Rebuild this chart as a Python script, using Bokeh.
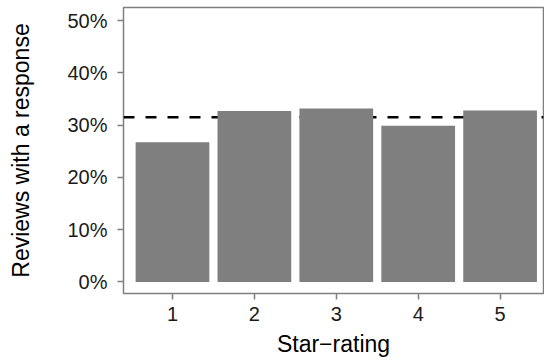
from bokeh.plotting import figure
from bokeh.models import Range1d, FixedTicker, NumeralTickFormatter, Span
from bokeh.embed import file_html
from bokeh.resources import INLINE

# Data
ratings = [1, 2, 3, 4, 5]
response_share = [0.267, 0.327, 0.332, 0.299, 0.328]
overall_share = 0.315
y_ticks = [0.0, 0.1, 0.2, 0.3, 0.4, 0.5]

FONT = "Liberation Sans"
GREY = "#7f7f7f"

p = figure(width=544, height=360, output_backend="svg", toolbar_location=None,
           x_range=Range1d(0.402, 5.53), y_range=Range1d(-0.022, 0.5249),
           min_border_left=123, min_border_right=1, min_border_top=7,
           min_border_bottom=67)

mean_line = Span(location=overall_share, dimension="width", line_color="black",
                 line_width=2.5, line_dash="11 11", level="underlay")
p.add_layout(mean_line)

p.vbar(x=ratings, top=response_share, bottom=0, width=0.9,
       fill_color=GREY, line_color=None)

p.xgrid.visible = False
p.ygrid.visible = False
p.background_fill_color = "white"
p.border_fill_color = "white"
p.outline_line_color = GREY
p.outline_line_width = 1.5

p.xaxis.ticker = FixedTicker(ticks=ratings)
p.yaxis.ticker = FixedTicker(ticks=y_ticks)
p.yaxis.formatter = NumeralTickFormatter(format="0%")
p.xaxis.axis_label = "Star\u2212rating"
p.yaxis.axis_label = "Reviews with a response"

for ax in (p.xaxis, p.yaxis):
    ax.axis_line_color = None
    ax.major_tick_line_color = GREY
    ax.major_tick_line_width = 1.5
    ax.major_tick_in = 0
    ax.major_tick_out = 6
    ax.minor_tick_line_color = None
    ax.major_label_text_font = FONT
    ax.major_label_text_font_size = "20px"
    ax.major_label_text_color = "#1a1a1a"
    ax.axis_label_text_font = FONT
    ax.axis_label_text_font_size = "23px"
    ax.axis_label_text_font_style = "normal"
    ax.axis_label_text_color = "black"

p.xaxis.major_label_standoff = 7
p.yaxis.major_label_standoff = 10
p.xaxis.axis_label_standoff = 7
p.yaxis.axis_label_standoff = 30

open("out.html", "w").write(file_html(p, INLINE))
